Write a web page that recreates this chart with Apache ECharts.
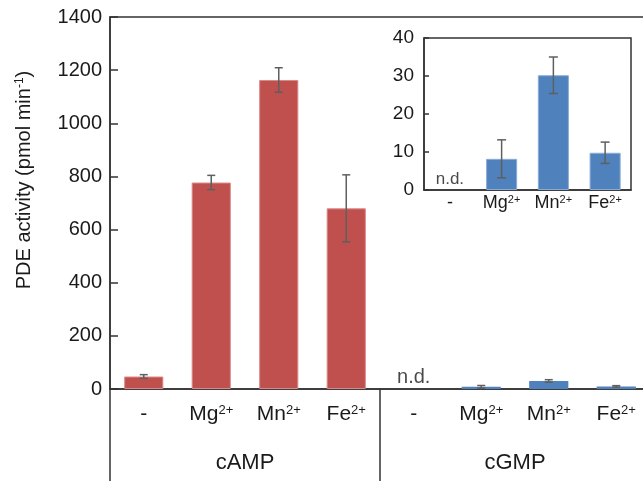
<!DOCTYPE html>
<html>
<head>
<meta charset="utf-8">
<script src="https://cdn.jsdelivr.net/npm/echarts@6/dist/echarts.min.js"></script>
<style>
  html, body { margin: 0; padding: 0; background: #fff; }
  #chart { width: 643px; height: 481px; }
</style>
</head>
<body>
<div id="chart"></div>
<script>
// ---- data ----
const conditions = ['-', 'Mg2+', 'Mn2+', 'Fe2+'];
const substrates = ['cAMP', 'cGMP'];
const campMean = [47, 777, 1163, 680];
const campErr = [7, 27, 46, 126];
const cgmpMean = [null, 8.2, 30.2, 9.8]; // null = n.d.
const cgmpErr = [null, 5.0, 4.8, 2.8];
const mainTicks = { min: 0, max: 1400, interval: 200 };
const insetTicks = { min: 0, max: 40, interval: 10 };

const FONT = '"Liberation Sans", Arial, Helvetica, sans-serif';
const AXIS = '#333';
const TEXT = '#1a1a1a';
const RED = '#C0504D';
const BLUE = '#4F81BD';
const ERR = '#5f5f5f';

const chart = echarts.init(document.getElementById('chart'));

const mainCats = substrates.flatMap(() => conditions);
const n = conditions.length;
const pad = v => v === null ? '-' : v;

const campBars = mainCats.map((c, i) => (i < n ? campMean[i] : '-'));
const cgmpBars = mainCats.map((c, i) => (i >= n ? pad(cgmpMean[i - n]) : '-'));

const errData = (means, errs, offset) =>
  means.map((m, i) => (m === null ? null : [i + offset, m - errs[i], m + errs[i]]))
       .filter(d => d !== null);

const ndData = (means, offset) =>
  means.map((m, i) => (m === null ? [i + offset, 0] : null)).filter(d => d !== null);

const supLabel = v => v.replace(/(\d\+)/, '{s|$1}');

const errorBar = (capHalf) => (params, api) => {
  const lo = api.coord([api.value(0), api.value(1)]);
  const hi = api.coord([api.value(0), api.value(2)]);
  const style = { stroke: ERR, lineWidth: 1.5 };
  return {
    type: 'group',
    children: [
      { type: 'line', shape: { x1: hi[0], y1: hi[1], x2: lo[0], y2: lo[1] }, style },
      { type: 'line', shape: { x1: hi[0] - capHalf, y1: hi[1], x2: hi[0] + capHalf, y2: hi[1] }, style },
      { type: 'line', shape: { x1: lo[0] - capHalf, y1: lo[1], x2: lo[0] + capHalf, y2: lo[1] }, style }
    ]
  };
};

const option = {
  animation: false,
  textStyle: { fontFamily: FONT },
  grid: [
    { left: 110, right: -7, top: 17, bottom: 92, show: true, borderColor: AXIS, borderWidth: 1.5,
      outerBoundsMode: 'none', containLabel: false },
    { left: 424, right: 12, top: 38, bottom: 291, show: true, borderColor: AXIS, borderWidth: 1.5,
      backgroundColor: '#fff', outerBoundsMode: 'none', containLabel: false }
  ],
  xAxis: [
    {
      gridIndex: 0,
      type: 'category',
      data: mainCats,
      axisLine: { lineStyle: { color: AXIS, width: 1.5 } },
      axisTick: { show: false },
      axisLabel: {
        interval: 0, margin: 15, fontSize: 21, color: TEXT, fontFamily: FONT,
        formatter: supLabel,
        rich: { s: { fontSize: 13, verticalAlign: 'top', color: TEXT, fontFamily: FONT } }
      }
    },
    {
      gridIndex: 0,
      type: 'category',
      data: substrates,
      position: 'bottom',
      axisLine: { show: false },
      axisTick: { show: true, length: 92, lineStyle: { color: AXIS, width: 1.5 } },
      axisLabel: { margin: 63, fontSize: 22, color: TEXT, fontFamily: FONT }
    },
    {
      gridIndex: 1,
      type: 'category',
      data: conditions,
      axisLine: { lineStyle: { color: AXIS, width: 1.5 } },
      axisTick: { show: false },
      axisLabel: {
        interval: 0, margin: 4, fontSize: 18, color: TEXT, fontFamily: FONT,
        formatter: supLabel,
        rich: { s: { fontSize: 11, verticalAlign: 'top', color: TEXT, fontFamily: FONT } }
      }
    }
  ],
  yAxis: [
    {
      gridIndex: 0,
      type: 'value',
      min: mainTicks.min, max: mainTicks.max, interval: mainTicks.interval,
      name: 'PDE activity (pmol min{s|-1})',
      nameLocation: 'middle',
      nameGap: 76,
      nameTextStyle: {
        fontSize: 20, color: TEXT, fontFamily: FONT, padding: [0, 0, 0, 46],
        rich: { s: { fontSize: 12, verticalAlign: 'top', color: TEXT, fontFamily: FONT } }
      },
      axisLine: { show: true, lineStyle: { color: AXIS, width: 1.5 } },
      axisTick: { show: true, inside: true, length: 8, lineStyle: { color: AXIS, width: 1.5 } },
      axisLabel: { fontSize: 20, color: TEXT, margin: 8, fontFamily: FONT, formatter: v => String(v) },
      splitLine: { show: false }
    },
    {
      gridIndex: 1,
      type: 'value',
      min: insetTicks.min, max: insetTicks.max, interval: insetTicks.interval,
      axisLine: { show: true, lineStyle: { color: AXIS, width: 1.5 } },
      axisTick: { show: true, inside: true, length: 5, lineStyle: { color: AXIS, width: 1.5 } },
      axisLabel: { fontSize: 19, color: TEXT, margin: 10, fontFamily: FONT, formatter: v => String(v) },
      splitLine: { show: false }
    }
  ],
  series: [
    {
      name: 'cAMP', type: 'bar', xAxisIndex: 0, yAxisIndex: 0,
      data: campBars, barWidth: '58%', barGap: '-100%',
      itemStyle: { color: RED, borderColor: '#d88a88', borderWidth: 1 }
    },
    {
      name: 'cGMP', type: 'bar', xAxisIndex: 0, yAxisIndex: 0,
      data: cgmpBars, barWidth: '58%', barGap: '-100%',
      itemStyle: { color: BLUE }
    },
    {
      type: 'custom', xAxisIndex: 0, yAxisIndex: 0, z: 5,
      renderItem: errorBar(4),
      encode: { x: 0, y: [1, 2] },
      data: errData(campMean, campErr, 0).concat(errData(cgmpMean, cgmpErr, n))
    },
    {
      type: 'scatter', xAxisIndex: 0, yAxisIndex: 0, symbolSize: 0,
      data: ndData(cgmpMean, n),
      label: { show: true, position: 'top', distance: 2, formatter: 'n.d.',
               fontSize: 20, color: TEXT, fontFamily: FONT }
    },
    {
      name: 'cGMP inset', type: 'bar', xAxisIndex: 2, yAxisIndex: 1,
      data: cgmpMean.map(pad), barWidth: '60%',
      itemStyle: { color: BLUE, borderColor: '#8aaad6', borderWidth: 1 }
    },
    {
      type: 'custom', xAxisIndex: 2, yAxisIndex: 1, z: 5,
      renderItem: errorBar(4.5),
      encode: { x: 0, y: [1, 2] },
      data: errData(cgmpMean, cgmpErr, 0)
    },
    {
      type: 'scatter', xAxisIndex: 2, yAxisIndex: 1, symbolSize: 0,
      data: ndData(cgmpMean, 0),
      label: { show: true, position: 'top', distance: 2, formatter: 'n.d.',
               fontSize: 17, color: TEXT, fontFamily: FONT }
    }
  ]
};

chart.setOption(option);
</script>
</body>
</html>
